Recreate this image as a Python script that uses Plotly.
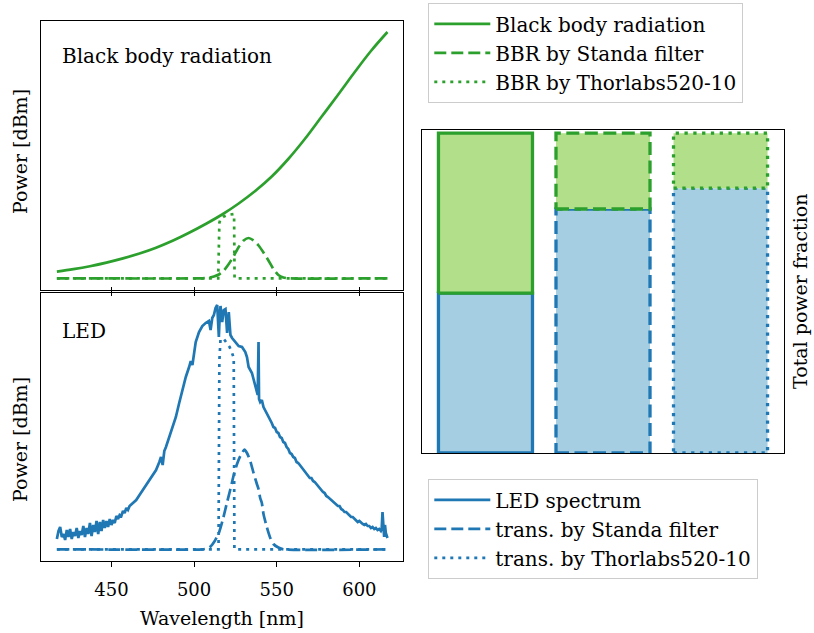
import plotly.graph_objects as go

# ---------------- data (arbitrary power units) ----------------
bbr_wl = [417, 427, 437, 447, 457, 467, 477, 487, 497, 507, 517, 527, 537, 547, 557, 567, 577, 587, 597, 607, 617]
bbr_pw = [18.3, 20.8, 23.8, 27.4, 31.6, 36.5, 42.3, 49.2, 57.2, 66, 75.5, 86.5, 99, 113.5, 131, 151, 173, 195, 217.5, 239, 258]

bbr_standa_wl = [417, 505, 509, 512, 515, 518, 521, 524, 527, 530, 533, 536, 539, 542, 545, 548, 551, 554, 557, 617]
bbr_standa_pw = [11.7, 11.7, 12.2, 13.5, 15.5, 19.5, 26, 34, 43, 49.5, 52, 49.5, 44.5, 37.5, 29.5, 21, 15, 12.5, 11.7, 11.7]

bbr_thor_wl = [417, 514.6, 515.3, 516, 518, 520, 524.2, 524.5, 617]
bbr_thor_pw = [11.7, 11.7, 67, 71, 73.5, 75, 76, 11.7, 11.7]

led_wl = [417, 418, 419, 420, 421, 422, 423, 424, 425, 426, 427, 428, 429, 430, 431, 432, 433, 434, 435, 436,
          437, 438, 439, 440, 441, 442, 443, 444, 445, 446, 447, 448, 449, 450, 451, 452, 453, 454, 455, 456,
          457, 458, 459, 460, 461, 463, 465, 467, 469, 471, 473, 475, 477, 479, 480, 481, 482, 483, 485, 487,
          489, 491, 493, 495, 497, 498, 499, 500, 501, 503, 505, 507, 509, 510, 511, 512, 513, 514, 514.5, 515,
          515.5, 516, 517, 518, 519, 520, 521, 522, 523, 525, 527, 529, 531, 532, 533, 535, 536, 537, 538, 538.5,
          539, 539.3, 540, 541, 542, 543, 545, 546, 547, 548, 549, 550, 551, 552, 553, 554, 555, 556, 557, 558,
          559, 560, 561, 562, 563, 564, 565, 566, 567, 568, 569, 570, 571, 572, 573, 574, 575, 576, 577, 578,
          579, 580, 581, 583, 585, 587, 588, 589, 590, 591, 592, 593, 594, 595, 596, 597, 598, 599, 600, 601,
          602, 603, 604, 605, 606, 607, 608, 609, 610, 611, 612, 613, 613.5, 614, 614.5, 615, 615.5, 616, 617]
led_pw = [22, 30, 34, 24, 27, 21, 31, 24, 32, 22, 29, 25, 33, 23, 30, 26, 35, 24, 33, 27,
          38, 25, 36, 29, 40, 27, 39, 30, 41, 33, 40, 34, 42, 36, 41, 38, 45, 42, 46, 45,
          50, 48, 53, 51, 55, 58, 61, 66, 71, 76, 81, 86, 91, 99, 104, 96, 110, 114, 124, 134,
          144, 158, 171, 184, 194, 200, 196, 210, 219, 229, 235, 238, 240, 231, 243, 246, 253, 256, 240, 224,
          245, 255, 239, 251, 252, 228, 249, 226, 223, 219, 215, 214, 209, 204, 194, 188, 182, 176, 169, 166,
          219, 162, 159, 161, 154, 151, 144, 141, 138, 134, 133, 129, 128, 124, 123, 119, 118, 114, 112, 108,
          107, 104, 103, 99, 98, 96, 94, 91, 89, 88, 86, 83, 83, 80, 79, 77, 74, 73, 71, 69,
          68, 65, 64, 61, 58, 55, 55, 52, 51, 49, 49, 47, 46, 44, 44, 42, 41, 39, 40, 38,
          37, 36, 37, 35, 35, 33, 34, 32, 33, 31, 32, 30, 32, 49, 28, 24, 36, 28, 23]

led_standa_wl = [417, 505, 508, 510, 512.5, 515, 517.5, 520, 522, 524, 526, 528, 530.5, 532, 534, 536, 538, 539,
                 540, 541, 542, 544, 546, 548, 551, 554, 617]
led_standa_pw = [11.7, 11.7, 12.5, 14.5, 20, 28, 42, 59, 72, 86, 97, 105, 111.5, 108, 100, 88, 77, 72,
                 63, 58, 47, 34, 23.5, 17, 13.5, 11.7, 11.7]

led_thor_wl = [417, 514.8, 515.3, 516, 518, 520, 521.5, 523, 524, 524.4, 617]
led_thor_pw = [11.7, 11.7, 200, 222, 222, 218, 214, 208, 203, 11.7, 11.7]

bar_labels = ["unfiltered", "Standa filter", "Thorlabs520-10"]
led_fraction = [0.5, 0.763, 0.828]
bar_dash = ["solid", "13px,5.5px", "3.3px,5.5px"]

wl_ticks = [450, 500, 550, 600]

# ---------------- styles ----------------
BLUE = "#1f77b4"
GREEN = "#2ca02c"
LBLUE = "#a6cee3"
LGREEN = "#b2df8a"
FONT = "DejaVu Serif, serif"
FS = 20
LW = 2.7
DASH = "12px,5px"
DOT = "3px,5px"

W, H = 814, 633

def px(x):
    return x / W

def py(y):
    return 1 - y / H

fig = go.Figure()

# top panel: black body radiation
fig.add_trace(go.Scatter(x=bbr_wl, y=bbr_pw, mode="lines", line=dict(color=GREEN, width=LW, shape="spline"),
                         name="Black body radiation", xaxis="x", yaxis="y", legend="legend",
                         legendgroup="a1"))
fig.add_trace(go.Scatter(x=bbr_standa_wl, y=bbr_standa_pw, mode="lines",
                         line=dict(color=GREEN, width=LW, dash=DASH, shape="spline", smoothing=0.6),
                         name="BBR by Standa filter", xaxis="x", yaxis="y", legend="legend", legendgroup="a2"))
fig.add_trace(go.Scatter(x=bbr_thor_wl, y=bbr_thor_pw, mode="lines", line=dict(color=GREEN, width=LW, dash=DOT),
                         name="BBR by Thorlabs520-10", xaxis="x", yaxis="y", legend="legend", legendgroup="a3"))

# bottom panel: LED
fig.add_trace(go.Scatter(x=led_wl, y=led_pw, mode="lines", line=dict(color=BLUE, width=LW),
                         name="LED spectrum", xaxis="x2", yaxis="y2", legend="legend2", legendgroup="b1"))
fig.add_trace(go.Scatter(x=led_standa_wl, y=led_standa_pw, mode="lines",
                         line=dict(color=BLUE, width=LW, dash=DASH, shape="spline", smoothing=0.6),
                         name="trans. by Standa filter", xaxis="x2", yaxis="y2", legend="legend2", legendgroup="b2"))
fig.add_trace(go.Scatter(x=led_thor_wl, y=led_thor_pw, mode="lines", line=dict(color=BLUE, width=LW, dash=DOT),
                         name="trans. by Thorlabs520-10", xaxis="x2", yaxis="y2", legend="legend2", legendgroup="b3"))

# right panel: stacked power fractions
BW = 0.8
def rect(i, y0, y1):
    x0, x1 = i - BW / 2, i + BW / 2
    return [x0, x1, x1, x0, x0], [y0, y0, y1, y1, y0]

for i, f in enumerate(led_fraction):
    xs, ys = rect(i, 0, f)
    fig.add_trace(go.Scatter(x=xs, y=ys, mode="lines", fill="toself", fillcolor=LBLUE,
                             line=dict(color=BLUE, width=3.3, dash=bar_dash[i]),
                             xaxis="x3", yaxis="y3", showlegend=False, name=bar_labels[i]))
for i, f in enumerate(led_fraction):
    xs, ys = rect(i, f, 1.0)
    fig.add_trace(go.Scatter(x=xs, y=ys, mode="lines", fill="toself", fillcolor=LGREEN,
                             line=dict(color=GREEN, width=3.3, dash=bar_dash[i]),
                             xaxis="x3", yaxis="y3", showlegend=False, name=bar_labels[i]))

axis_common = dict(showline=True, linecolor="black", linewidth=1.3, mirror=True, showgrid=False,
                   zeroline=False)

xdom = [px(41), px(403)]
legend_common = dict(xanchor="left", yanchor="top", bgcolor="rgba(255,255,255,0.8)",
                     bordercolor="#cccccc", borderwidth=1.3, font=dict(size=FS), itemwidth=56,
                     tracegroupgap=0)
fig.update_layout(
    width=W, height=H, margin=dict(l=0, r=0, t=0, b=0),
    paper_bgcolor="white", plot_bgcolor="white",
    font=dict(family=FONT, size=FS, color="black"),
    xaxis=dict(domain=xdom, anchor="y", range=[407.4, 626.4], tickvals=wl_ticks, showticklabels=False,
               ticks="outside", ticklen=5, tickwidth=1.3, tickcolor="black", **axis_common),
    yaxis=dict(domain=[py(290), py(21)], anchor="x", range=[0, 269], showticklabels=False, ticks="",
               **axis_common),
    xaxis2=dict(domain=xdom, anchor="y2", range=[407.4, 626.4], tickvals=wl_ticks,
                ticktext=[str(t) for t in wl_ticks],
                ticks="outside", ticklen=5, tickwidth=1.3, tickcolor="black", ticklabelstandoff=7,
                showline=True, linecolor="black", linewidth=1.3, mirror="ticks", showgrid=False,
                zeroline=False, tickfont=dict(size=18),
                title=dict(text="Wavelength [nm]", standoff=12, font=dict(size=19))),
    yaxis2=dict(domain=[py(561), py(293)], anchor="x2", range=[0, 268], showticklabels=False, ticks="",
                **axis_common),
    xaxis3=dict(domain=[px(422), px(784)], anchor="y3", range=[-0.54, 2.54], showticklabels=False, ticks="",
                **axis_common),
    yaxis3=dict(domain=[py(453), py(130)], anchor="x3", range=[0, 1.01], showticklabels=False, ticks="",
                **axis_common),
    legend=dict(x=px(428), y=py(3), **legend_common),
    legend2=dict(x=px(428), y=py(479), **legend_common),
    annotations=[
        dict(text="Black body radiation", x=px(60), y=py(56), xref="paper", yref="paper",
             xanchor="left", yanchor="middle", showarrow=False, font=dict(size=FS)),
        dict(text="LED", x=px(60), y=py(331), xref="paper", yref="paper",
             xanchor="left", yanchor="middle", showarrow=False, font=dict(size=FS)),
        dict(text="Power [dBm]", x=px(20), y=py(152), xref="paper", yref="paper", textangle=-90,
             xanchor="center", yanchor="middle", showarrow=False, font=dict(size=19)),
        dict(text="Power [dBm]", x=px(20), y=py(440), xref="paper", yref="paper", textangle=-90,
             xanchor="center", yanchor="middle", showarrow=False, font=dict(size=19)),
        dict(text="Total power fraction", x=px(800), y=py(292), xref="paper", yref="paper", textangle=-90,
             xanchor="center", yanchor="middle", showarrow=False, font=dict(size=19)),
    ],
)

fig.write_html("out.html")
